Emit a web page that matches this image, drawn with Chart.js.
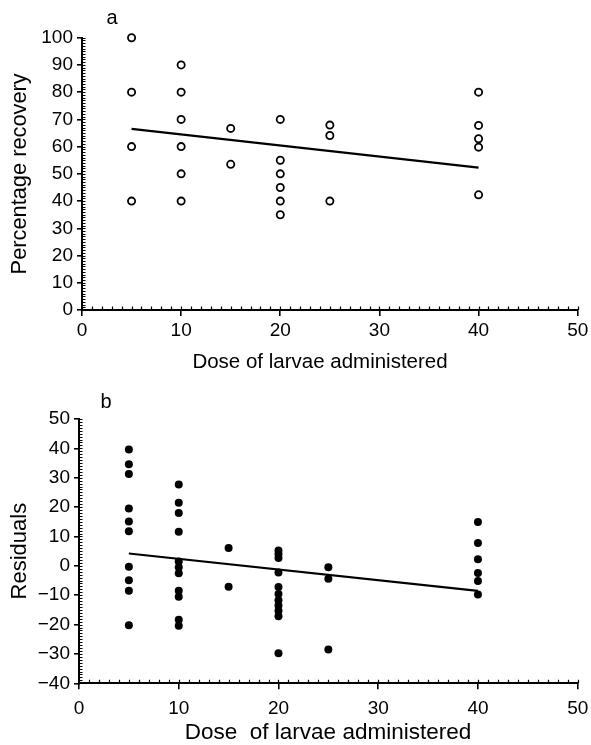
<!DOCTYPE html>
<html>
<head>
<meta charset="utf-8">
<script src="https://cdn.jsdelivr.net/npm/chart.js@4/dist/chart.umd.min.js"></script>
<style>
  html, body { margin: 0; padding: 0; background: #fff; }
  #wrap { position: relative; width: 591px; height: 745px; }
  canvas { position: absolute; left: 0; }
  #cA { top: 0; }
  #cB { top: 372px; }
</style>
</head>
<body>
<div id="wrap">
  <canvas id="cA" width="591" height="372"></canvas>
  <canvas id="cB" width="591" height="373"></canvas>
</div>
<script>
// ---- Panel a: percentage recovery vs dose ----
const doseA = [5,5,5,5, 10,10,10,10,10,10, 15,15, 20,20,20,20,20,20, 25,25,25, 40,40,40,40,40];
const recoveryA = [100,80,60,40, 90,80,70,60,50,40, 66.7,53.5, 70,55,50,45,40,35, 67.9,64.1,40, 80,67.8,62.9,59.8,42.3];
const fitDoseA = [5, 40];
const fitRecoveryA = [66.5, 52.3];

// ---- Panel b: residuals vs dose ----
const doseB = [5,5,5,5,5,5,5,5,5,5,
               10,10,10,10,10,10,10,10,10,10,10,
               15,15,
               20,20,20,20,20,20,20,20,20,20,20,
               25,25,25,
               40,40,40,40,40,40];
const residualsB = [39.6,34.6,31.3,19.5,15.1,11.8,-0.3,-4.9,-8.5,-20.2,
                    27.7,21.5,18.0,11.6,1.5,-0.5,-2.5,-8.5,-10.5,-18.4,-20.4,
                    6.1,-7.1,
                    5.2,4.0,2.7,-2.3,-7.2,-9.6,-11.7,-13.5,-15.3,-17.2,-29.8,
                    -0.5,-4.4,-28.5,
                    14.9,7.8,2.2,-2.4,-5.2,-9.8];
const fitDoseB = [5, 40];
const fitResidualsB = [4.2, -8.5];

const xTicks = [0,10,20,30,40,50];
const yTicksA = [0,10,20,30,40,50,60,70,80,90,100];
const yTicksB = [-40,-30,-20,-10,0,10,20,30,40,50];

const FONT = "'Liberation Sans', Arial, Helvetica, sans-serif";

function pts(xs, ys) { return xs.map((x, i) => ({x: x, y: ys[i]})); }

const decor = {
  id: 'decor',
  afterDraw(chart, args, o) {
    const ctx = chart.ctx;
    const xs = chart.scales.x, ys = chart.scales.y;
    const a = chart.chartArea;
    ctx.save();
    ctx.strokeStyle = '#000';
    ctx.lineWidth = 1.2;
    ctx.beginPath();
    for (let v = ys.min; v <= ys.max + 1e-9; v += 1) {
      const p = Math.round(ys.getPixelForValue(v)) + 0.5;
      ctx.moveTo(a.left, p); ctx.lineTo(a.left + 3.5, p);
    }
    for (let v = xs.min; v <= xs.max + 1e-9; v += 1) {
      const p = Math.round(xs.getPixelForValue(v)) + 0.5;
      ctx.moveTo(p, a.bottom); ctx.lineTo(p, a.bottom - 3.5);
    }
    ctx.stroke();
    ctx.fillStyle = '#000';
    // panel letter
    ctx.font = '20px ' + FONT;
    ctx.textBaseline = 'middle';
    ctx.textAlign = 'center';
    ctx.fillText(o.letter, o.lx, o.ly);
    // x-axis title
    ctx.font = o.xtSize + 'px ' + FONT;
    ctx.textBaseline = 'alphabetic';
    ctx.fillText(o.xtitle, o.xtX, o.xtY);
    ctx.restore();
  }
};

function makeChart(id, cfg) {
  const minus = v => String(v).replace('-', '\u2212');
  return new Chart(document.getElementById(id), {
    type: 'scatter',
    data: {
      datasets: [
        {
          data: pts(cfg.px, cfg.py),
          pointStyle: 'circle',
          pointRadius: cfg.radius,
          pointBorderWidth: cfg.bw,
          pointBackgroundColor: cfg.fill,
          pointBorderColor: '#000',
          showLine: false,
          clip: false
        },
        {
          data: pts(cfg.lx, cfg.ly),
          showLine: true,
          borderColor: '#000',
          borderWidth: 2.2,
          pointRadius: 0,
          fill: false,
          clip: false
        }
      ]
    },
    options: {
      responsive: false,
      devicePixelRatio: 1,
      animation: false,
      layout: { padding: { top: cfg.top, right: cfg.right, left: 0, bottom: 0 } },
      plugins: {
        legend: { display: false },
        tooltip: { enabled: false },
        decor: { letter: cfg.letter, lx: cfg.letterX, ly: cfg.letterY,
                 xtitle: cfg.xtitle, xtX: cfg.xtX, xtY: cfg.xtY, xtSize: cfg.xtSize }
      },
      scales: {
        x: {
          type: 'linear',
          min: 0, max: 50,
          afterBuildTicks: s => { s.ticks = xTicks.map(v => ({value: v})); },
          afterFit: s => { s.height = cfg.xh; s.paddingLeft = 0; s.paddingRight = 0; },
          border: { display: true, color: '#000', width: 2 },
          grid: { display: true, drawOnChartArea: false, drawTicks: true, tickLength: 6, color: '#000', lineWidth: 1.6 },
          ticks: { color: '#000', padding: cfg.xpad, font: { family: FONT, size: 19 }, maxRotation: 0 },
          title: { display: false }
        },
        y: {
          type: 'linear',
          min: cfg.ymin, max: cfg.ymax,
          afterBuildTicks: s => { s.ticks = cfg.yt.map(v => ({value: v})); },
          afterFit: s => { s.width = cfg.yw; s.paddingTop = 0; s.paddingBottom = 0; },
          border: { display: true, color: '#000', width: 2 },
          grid: { display: true, drawOnChartArea: false, drawTicks: true, tickLength: 5, color: '#000', lineWidth: 1.6 },
          ticks: { color: '#000', padding: 4, font: { family: FONT, size: 19 }, callback: v => minus(v) },
          title: { display: true, text: cfg.ytitle, color: '#000', font: { family: FONT, size: cfg.ytSize, lineHeight: 1.2 }, padding: { top: cfg.ytp, bottom: 0 } }
        }
      }
    },
    plugins: [decor]
  });
}

makeChart('cA', {
  px: doseA, py: recoveryA, lx: fitDoseA, ly: fitRecoveryA,
  radius: 3.6, bw: 1.8, fill: '#fff',
  top: 37.7, right: 13.3, xh: 62, yw: 82, xpad: 3,
  ymin: 0, ymax: 100, yt: yTicksA,
  xtitle: 'Dose of larvae administered', xtX: 320, xtY: 368, xtSize: 20.5,
  ytitle: 'Percentage recovery', ytSize: 21.8, ytp: 7,
  letter: 'a', letterX: 112, letterY: 18
});

makeChart('cB', {
  px: doseB, py: residualsB, lx: fitDoseB, ly: fitResidualsB,
  radius: 4, bw: 0, fill: '#000',
  top: 47, right: 13.3, xh: 61.7, yw: 79, xpad: 8,
  ymin: -40, ymax: 50, yt: yTicksB,
  xtitle: 'Dose  of larvae administered', xtX: 328, xtY: 367, xtSize: 22.5,
  ytitle: 'Residuals', ytSize: 22, ytp: 7,
  letter: 'b', letterX: 106, letterY: 30
});
</script>
</body>
</html>
